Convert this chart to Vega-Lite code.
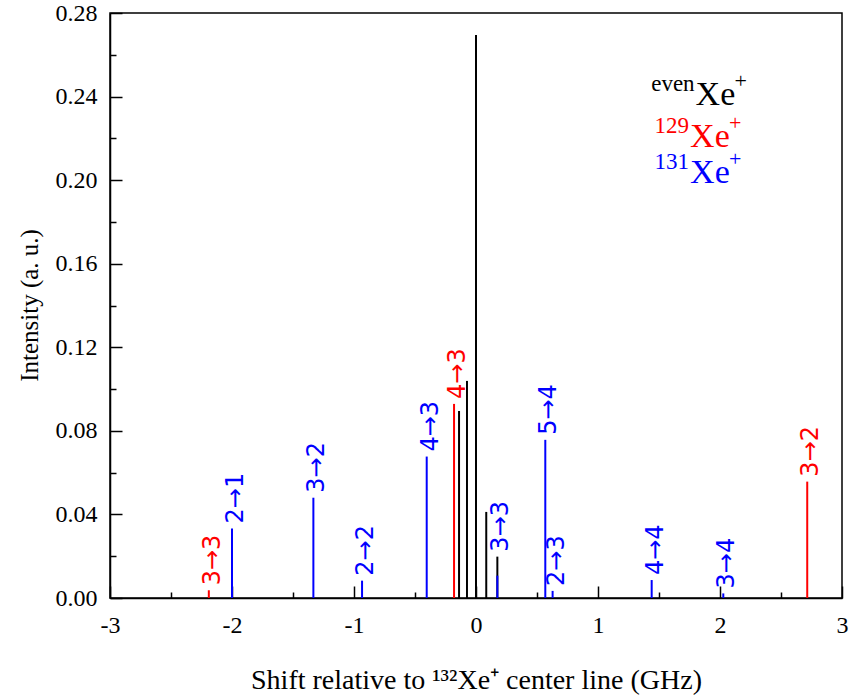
{
  "$schema": "https://vega.github.io/schema/vega-lite/v6.json",
  "width": 732,
  "height": 585,
  "autosize": {"type": "none"},
  "padding": {"left": 110, "top": 13, "right": 8, "bottom": 98},
  "background": "white",
  "config": {
    "view": {"stroke": "black", "strokeWidth": 1.5},
    "axis": {
      "grid": false,
      "domainColor": "black",
      "domainWidth": 1.5,
      "tickColor": "black",
      "tickWidth": 1.5,
      "labelFont": "Liberation Serif",
      "labelFontSize": 24,
      "labelColor": "black",
      "labelFlush": false,
      "labelOverlap": false,
      "titleFont": "Liberation Serif",
      "titleFontSize": 25,
      "titleFontWeight": "normal",
      "titleColor": "black"
    }
  },
  "datasets": {
    "lines": [
      {"shift": -0.139, "intensity": 0.0895, "iso": "even", "label": null},
      {"shift": -0.074, "intensity": 0.1039, "iso": "even", "label": null},
      {"shift": 0.0, "intensity": 0.2695, "iso": "even", "label": null},
      {"shift": 0.084, "intensity": 0.0412, "iso": "even", "label": null},
      {"shift": 0.175, "intensity": 0.0198, "iso": "even", "label": null},
      {"shift": -2.19, "intensity": 0.0037, "iso": "129", "label": "3→3"},
      {"shift": -0.18, "intensity": 0.0929, "iso": "129", "label": "4→3"},
      {"shift": 2.715, "intensity": 0.0557, "iso": "129", "label": "3→2"},
      {"shift": -2.0, "intensity": 0.0333, "iso": "131", "label": "2→1"},
      {"shift": -1.333, "intensity": 0.048, "iso": "131", "label": "3→2"},
      {"shift": -0.934, "intensity": 0.0083, "iso": "131", "label": "2→2"},
      {"shift": -0.404, "intensity": 0.0677, "iso": "131", "label": "4→3"},
      {"shift": 0.175, "intensity": 0.0107, "iso": "131", "label": "3→3"},
      {"shift": 0.568, "intensity": 0.0757, "iso": "131", "label": "5→4"},
      {"shift": 0.628, "intensity": 0.0034, "iso": "131", "label": "2→3"},
      {"shift": 1.44, "intensity": 0.0086, "iso": "131", "label": "4→4"},
      {"shift": 2.027, "intensity": 0.0022, "iso": "131", "label": "3→4"}
    ],
    "legend": [
      {"iso": "even", "sup": "even", "lx": 1.80, "ly": 0.236},
      {"iso": "129", "sup": "129", "lx": 1.755, "ly": 0.2159},
      {"iso": "131", "sup": "131", "lx": 1.755, "ly": 0.1987}
    ]
  },
  "layer": [
    {
      "data": {"name": "lines"},
      "mark": {"type": "rule", "strokeWidth": 2},
      "encoding": {
        "x": {
          "field": "shift", "type": "quantitative",
          "scale": {"domain": [-3, 3], "nice": false, "zero": false},
          "axis": {
            "values": [-3, -2.5, -2, -1.5, -1, -0.5, 0, 0.5, 1, 1.5, 2, 2.5, 3],
            "labelExpr": "datum.value % 1 == 0 ? '' + datum.value : ''",
            "tickSize": {"expr": "datum.value % 1 == 0 ? -12 : -6"},
            "labelPadding": 27,
            "title": "Shift relative to ¹³²Xe⁺ center line (GHz)",
            "titleFontSize": 28,
            "titleX": 366,
            "titleY": 90,
            "titleAlign": "center",
            "titleBaseline": "alphabetic"
          }
        },
        "y": {
          "field": "intensity", "type": "quantitative",
          "scale": {"domain": [0, 0.28], "nice": false},
          "axis": {
            "values": [0, 0.02, 0.04, 0.06, 0.08, 0.1, 0.12, 0.14, 0.16, 0.18, 0.2, 0.22, 0.24, 0.26, 0.28],
            "labelExpr": "round(datum.value * 100) % 4 == 0 ? format(datum.value, '.2f') : ''",
            "tickSize": {"expr": "round(datum.value * 100) % 4 == 0 ? -12 : -6"},
            "labelPadding": 25,
            "title": "Intensity (a. u.)",
            "titleX": -73,
            "titleY": 292,
            "titleAlign": "center",
            "titleBaseline": "alphabetic"
          }
        },
        "y2": {"datum": 0},
        "color": {
          "field": "iso", "type": "nominal",
          "scale": {"domain": ["even", "129", "131"], "range": ["#000000", "#FF0000", "#0000FF"]},
          "legend": null
        }
      }
    },
    {
      "data": {"name": "lines"},
      "transform": [
        {"joinaggregate": [{"op": "max", "field": "intensity", "as": "top"}], "groupby": ["shift"]},
        {"filter": "datum.label != null"}
      ],
      "mark": {"type": "text", "angle": 270, "align": "left", "baseline": "middle", "dx": 5, "dy": 4, "font": "DejaVu Sans", "fontSize": 24},
      "encoding": {
        "x": {"field": "shift", "type": "quantitative"},
        "y": {"field": "top", "type": "quantitative"},
        "text": {"field": "label"},
        "color": {"field": "iso", "type": "nominal", "legend": null}
      }
    },
    {
      "data": {"name": "legend"},
      "mark": {"type": "text", "align": "left", "baseline": "alphabetic", "font": "Liberation Serif", "fontSize": 34, "text": "Xe"},
      "encoding": {
        "x": {"field": "lx", "type": "quantitative"},
        "y": {"field": "ly", "type": "quantitative"},
        "color": {"field": "iso", "type": "nominal", "legend": null}
      }
    },
    {
      "data": {"name": "legend"},
      "mark": {"type": "text", "align": "right", "baseline": "alphabetic", "font": "Liberation Serif", "fontSize": 23, "dx": -1, "dy": -14},
      "encoding": {
        "x": {"field": "lx", "type": "quantitative"},
        "y": {"field": "ly", "type": "quantitative"},
        "text": {"field": "sup"},
        "color": {"field": "iso", "type": "nominal", "legend": null}
      }
    },
    {
      "data": {"name": "legend"},
      "mark": {"type": "text", "align": "left", "baseline": "alphabetic", "font": "Liberation Serif", "fontSize": 22, "dx": 39, "dy": -17, "text": "+"},
      "encoding": {
        "x": {"field": "lx", "type": "quantitative"},
        "y": {"field": "ly", "type": "quantitative"},
        "color": {"field": "iso", "type": "nominal", "legend": null}
      }
    }
  ]
}
